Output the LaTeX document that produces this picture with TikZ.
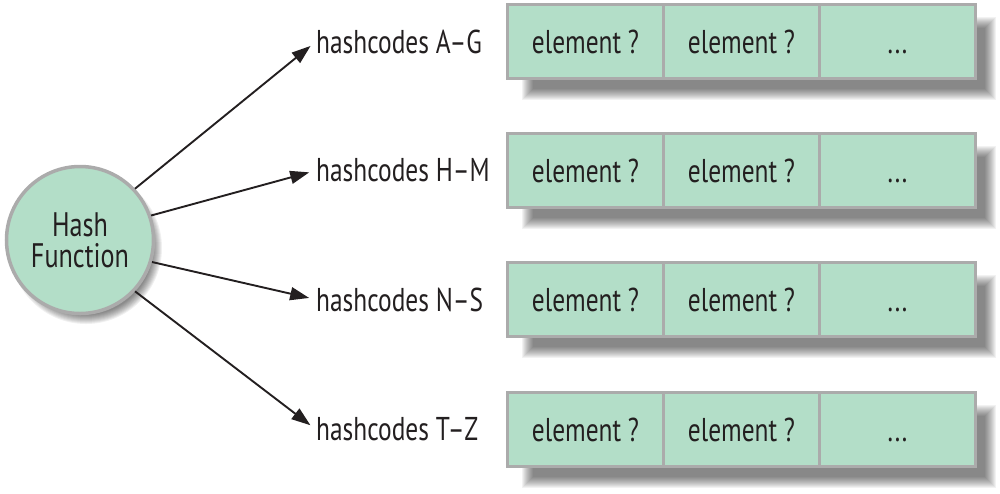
\documentclass[tikz,border=0pt]{standalone}
\usepackage{fontspec}
\setmainfont{PT Sans}[FakeStretch=0.77]
\usetikzlibrary{arrows.meta}
\definecolor{mint}{HTML}{B3DEC8}
\definecolor{rim}{HTML}{ABABAB}
\definecolor{ink}{HTML}{231F20}
\begin{document}
\begin{tikzpicture}[x=1pt,y=-1pt,
  cell/.style={draw=rim, line width=3pt, fill=mint, minimum width=156pt, minimum height=74pt, inner sep=0pt, font=\fontsize{33}{34}\selectfont, text=ink},
  lbl/.style={anchor=west, inner sep=0pt, font=\fontsize{33}{34}\selectfont, text=ink},
  arr/.style={line width=1.9pt, draw=ink, -{Triangle[length=19pt,width=13pt]}, shorten >=7pt}]
\useasboundingbox (0,0) rectangle (1000,493);
% circle shadow
\foreach \k in {0,...,9}
  \fill[black, opacity=0.06] (86,248) circle ({67+\k});
\node[circle, minimum size=147pt, draw=rim, line width=3.5pt, fill=mint, inner sep=0pt, align=center, text=ink, font=\fontsize{34}{31}\selectfont] (hf) at (80,240) {Hash\\Function};
% rows
\foreach \n/\yc/\t in {A/41.5/A--G, B/170.5/H--M, C/299.5/N--S, D/429.5/T--Z}{
  \foreach \k in {0,...,11}
    \fill[black, opacity=0.05] (533-\k,\yc-14-\k) rectangle (985+\k,\yc+47+\k);
  \node[cell] (c\n1) at (585.5,\yc) {element ?};
  \node[cell] (c\n2) at (741.5,\yc) {element ?};
  \node[cell] (c\n3) at (897.5,\yc) {\vphantom{element ?}...};
  \node[lbl] (l\n) at (316,\yc) {hashcodes \t};
}
\draw[arr] (hf.43) -- (lA.west);
\draw[arr] (hf.19) -- (lB.west);
\draw[arr] (hf.-17) -- (lC.west);
\draw[arr] (hf.-43) -- (lD.west);
\end{tikzpicture}
\end{document}
